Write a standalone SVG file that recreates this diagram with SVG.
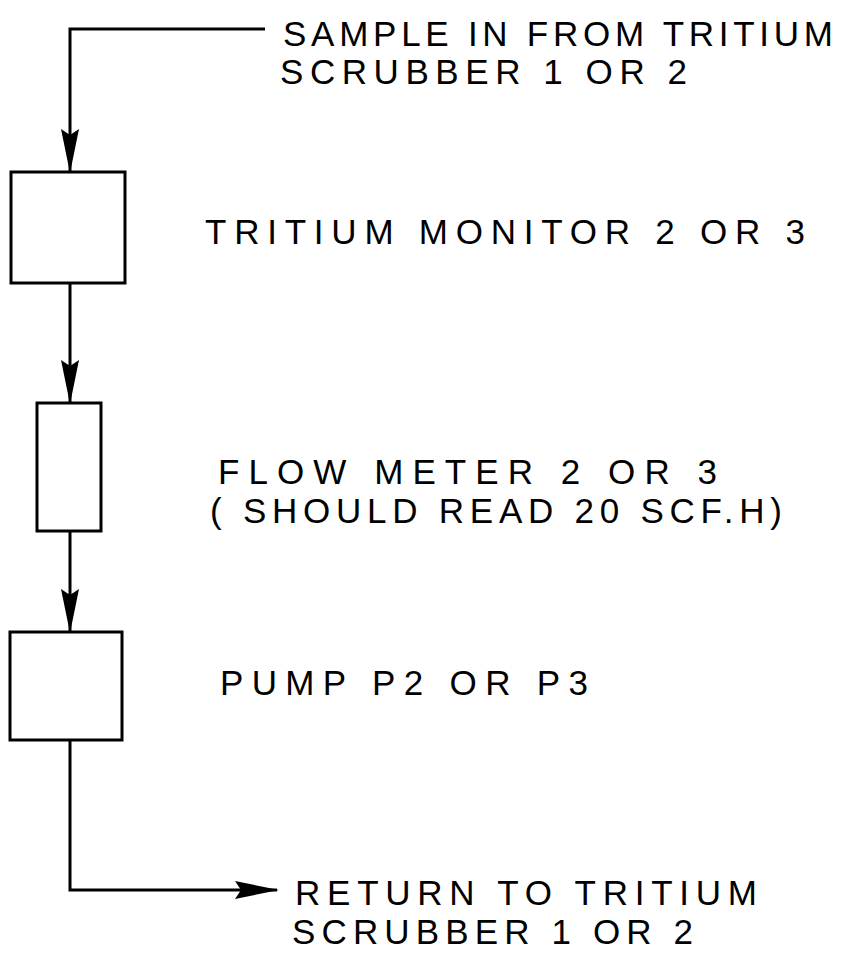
<svg xmlns="http://www.w3.org/2000/svg" width="863" height="955" viewBox="0 0 863 955">
<style>
.box{fill:#fff;stroke:#000;stroke-width:3}
.ln{fill:none;stroke:#000;stroke-width:3}
text{font-family:"Liberation Sans","DejaVu Sans",sans-serif;font-size:35px;fill:#000}
</style>
<defs>
<marker id="ahl" markerWidth="44" markerHeight="20" refX="42" refY="10" orient="auto" markerUnits="userSpaceOnUse">
<path d="M0,1 L44,10 L0,19 L6,10 Z" fill="#000"/>
</marker>
</defs>
<rect width="863" height="955" fill="#fff"/>
<g id="connectors">
<path class="ln" d="M265,29 H70 V171" marker-end="url(#ahl)"/>
<path class="ln" d="M70,283 V402" marker-end="url(#ahl)"/>
<path class="ln" d="M70,531 V631" marker-end="url(#ahl)"/>
<path class="ln" d="M70,740 V890 H277" marker-end="url(#ahl)"/>
</g>
<g id="source">
<text x="283" y="46" textLength="550" lengthAdjust="spacing">SAMPLE IN FROM TRITIUM</text>
<text x="280" y="84" textLength="407" lengthAdjust="spacing">SCRUBBER 1 OR 2</text>
</g>
<g id="tritium-monitor">
<rect class="box" x="11" y="172" width="114" height="111"/>
<text x="205" y="244" textLength="600" lengthAdjust="spacing">TRITIUM MONITOR 2 OR 3</text>
</g>
<g id="flow-meter">
<rect class="box" x="37" y="403" width="64" height="128"/>
<text x="218" y="484" textLength="499" lengthAdjust="spacing">FLOW METER 2 OR 3</text>
<text x="210" y="523" textLength="572" lengthAdjust="spacing">( SHOULD READ 20 SCF.H)</text>
</g>
<g id="pump">
<rect class="box" x="10" y="632" width="112" height="108"/>
<text x="220" y="695" textLength="368" lengthAdjust="spacing">PUMP P2 OR P3</text>
</g>
<g id="return">
<text x="295" y="905" textLength="462" lengthAdjust="spacing">RETURN TO TRITIUM</text>
<text x="292" y="944" textLength="401" lengthAdjust="spacing">SCRUBBER 1 OR 2</text>
</g>
</svg>
